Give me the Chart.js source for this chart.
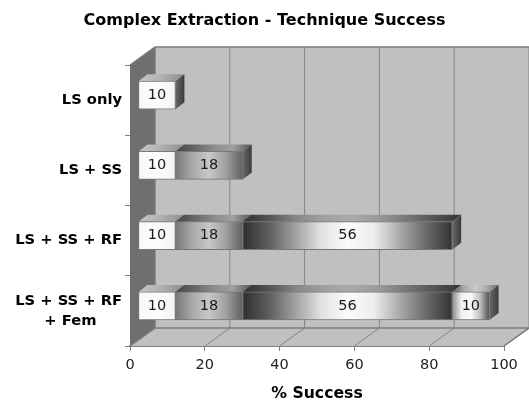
<!DOCTYPE html>
<html>
<head>
<meta charset="utf-8">
<title>Complex Extraction - Technique Success</title>
<script src="https://cdn.jsdelivr.net/npm/chart.js@4"></script>
<style>
  body { margin: 0; background: #fff; }
  canvas { display: block; }
</style>
</head>
<body>
<canvas id="chart" width="529" height="401"></canvas>
<script>
const FONT = "'DejaVu Sans', Verdana, sans-serif";

const categories = ["LS only", "LS + SS", "LS + SS + RF", ["LS + SS + RF", "+ Fem\u00A0\u00A0\u00A0\u00A0\u00A0"]];
const firstStep = [10, 10, 10, 10];
const secondStep = [null, 18, 18, 18];
const thirdStep = [null, null, 56, 56];
const fourthStep = [null, null, null, 10];
const xTicks = [0, 20, 40, 60, 80, 100];

// grey ramps for each segment, left to right
const ramps = [
  ["#f8f8f8", "#fcfcfc", "#f4f4f4"],
  ["#777777", "#a8a8a8", "#c8c8c8", "#a0a0a0", "#606060"],
  ["#2e2e2e", "#5e5e5e", "#a0a0a0", "#e2e2e2", "#fbfbfb", "#eeeeee", "#aaaaaa", "#6a6a6a", "#333333"],
  ["#8a8a8a", "#f0f0f0", "#fafafa", "#c0c0c0", "#4c4c4c"],
];
const topRamps = [
  ["#c8c8c8", "#b0b0b0", "#8c8c8c"],
  ["#444444", "#666666", "#8c8c8c", "#a0a0a0", "#555555"],
  ["#2e2e2e", "#555555", "#888888", "#a0a0a0", "#aaaaaa", "#999999", "#777777", "#555555", "#333333"],
  ["#555555", "#aaaaaa", "#cccccc", "#aaaaaa", "#666666"],
];
const series = [firstStep, secondStep, thirdStep, fourthStep];

const DEPTH_X = 25, DEPTH_Y = -18; // walls
const BAR_X = 8, BAR_Y = -5; // bars sit part way into the box
const CAP_X = 9, CAP_Y = -7;

function ramp(ctx, x0, x1, stops) {
  const g = ctx.createLinearGradient(x0, 0, x1, 0);
  stops.forEach((c, i) => g.addColorStop(i / (stops.length - 1), c));
  return g;
}

function segmentStart(datasetIndex, index) {
  let sum = 0;
  for (let i = 0; i < datasetIndex; i++) sum += series[i][index] || 0;
  return sum;
}

function poly(ctx, pts, fill) {
  ctx.beginPath();
  pts.forEach((p, i) => (i ? ctx.lineTo(p[0], p[1]) : ctx.moveTo(p[0], p[1])));
  ctx.closePath();
  ctx.fillStyle = fill;
  ctx.fill();
}

const box3d = {
  id: "box3d",
  beforeDraw(chart) {
    // y labels would be clipped to the scale box, which starts at the left padding
    chart.scales.y.left = 0;
  },
  beforeDatasetsDraw(chart) {
    const { ctx, chartArea: a, scales } = chart;
    const l = a.left, r = a.right, t = a.top, b = a.bottom;
    ctx.save();
    // back wall, floor, left wall
    poly(ctx, [[l + DEPTH_X, t + DEPTH_Y], [r + DEPTH_X, t + DEPTH_Y], [r + DEPTH_X, b + DEPTH_Y], [l + DEPTH_X, b + DEPTH_Y]], "#c0c0c0");
    poly(ctx, [[l, b], [r, b], [r + DEPTH_X, b + DEPTH_Y], [l + DEPTH_X, b + DEPTH_Y]], "#c0c0c0");
    poly(ctx, [[l, t], [l + DEPTH_X, t + DEPTH_Y], [l + DEPTH_X, b + DEPTH_Y], [l, b]], "#6f6f6f");

    ctx.strokeStyle = "#858585";
    ctx.lineWidth = 1;
    xTicks.slice(1).forEach((v) => {
      const x = scales.x.getPixelForValue(v);
      ctx.beginPath();
      ctx.moveTo(x, b);
      ctx.lineTo(x + DEPTH_X, b + DEPTH_Y);
      ctx.lineTo(x + DEPTH_X, t + DEPTH_Y);
      ctx.stroke();
    });
    ctx.strokeStyle = "#7c7c7c";
    ctx.lineWidth = 1.5;
    ctx.beginPath();
    ctx.moveTo(l, t);
    ctx.lineTo(l + DEPTH_X, t + DEPTH_Y);
    ctx.lineTo(r + DEPTH_X, t + DEPTH_Y);
    ctx.moveTo(l + DEPTH_X, t + DEPTH_Y);
    ctx.lineTo(l + DEPTH_X, b + DEPTH_Y);
    ctx.lineTo(l, b);
    ctx.moveTo(l + DEPTH_X, b + DEPTH_Y);
    ctx.lineTo(r + DEPTH_X, b + DEPTH_Y);
    ctx.lineTo(r, b);
    ctx.stroke();
    ctx.restore();

    // bars get pushed into the box, the fronts are drawn by the library
    ctx.save();
    ctx.translate(BAR_X, BAR_Y);
    series.forEach((values, d) => {
      chart.getDatasetMeta(d).data.forEach((bar, i) => {
        if (values[i] == null) return;
        const x0 = bar.base, x1 = bar.x;
        const yt = bar.y - bar.height / 2, yb = bar.y + bar.height / 2;
        poly(ctx, [[x0, yt], [x0 + CAP_X, yt + CAP_Y], [x1 + CAP_X, yt + CAP_Y], [x1, yt]],
          ramp(ctx, x0, x1 + CAP_X, topRamps[d]));
        const side = ctx.createLinearGradient(x1, 0, x1 + CAP_X, 0);
        side.addColorStop(0, "#6a6a6a");
        side.addColorStop(1, "#3a3a3a");
        poly(ctx, [[x1, yt], [x1 + CAP_X, yt + CAP_Y], [x1 + CAP_X, yb + CAP_Y], [x1, yb]], side);
      });
    });
  },
  afterDatasetsDraw(chart) {
    const { ctx } = chart;
    ctx.fillStyle = "#1a1a1a";
    ctx.font = "14.5px " + FONT;
    ctx.textAlign = "center";
    ctx.textBaseline = "middle";
    series.forEach((values, d) => {
      chart.getDatasetMeta(d).data.forEach((bar, i) => {
        if (values[i] == null) return;
        ctx.fillText(String(values[i]), (bar.base + bar.x) / 2, bar.y);
      });
    });
    ctx.restore();
  },
};

new Chart(document.getElementById("chart"), {
  type: "bar",
  plugins: [box3d],
  data: {
    labels: categories,
    datasets: series.map((values, d) => ({
      label: "Step " + (d + 1),
      data: values,
      barThickness: 28,
      borderWidth: 1,
      borderColor: "#777777",
      borderSkipped: false,
      backgroundColor: (c) => {
        const x = c.chart.scales.x;
        if (!x || c.dataIndex == null) return ramps[d][1];
        const start = segmentStart(d, c.dataIndex);
        const end = start + (values[c.dataIndex] || 0);
        const x0 = x.getPixelForValue(start), x1 = x.getPixelForValue(end);
        // the scale has no size yet on the first pass
        if (!Number.isFinite(x0) || !Number.isFinite(x1)) return ramps[d][1];
        return ramp(c.chart.ctx, x0, x1, ramps[d]);
      },
    })),
  },
  options: {
    indexAxis: "y",
    responsive: false,
    animation: false,
    // equal side padding keeps the title centred on the page
    layout: { padding: { left: 25, right: 25 } },
    plugins: {
      legend: { display: false },
      tooltip: { enabled: false },
      title: {
        display: true,
        text: "Complex Extraction - Technique Success",
        color: "#000",
        font: { family: FONT, size: 16, weight: "bold" },
        padding: { top: 11, bottom: 34.8 },
      },
    },
    scales: {
      x: {
        stacked: true,
        min: 0,
        max: 100,
        afterFit: (s) => { s.height = 55; },
        afterBuildTicks: (s) => { s.ticks = xTicks.map((value) => ({ value })); },
        grid: { drawOnChartArea: false, color: "#808080", tickLength: 5 },
        border: { color: "#808080", width: 2 },
        ticks: { color: "#222", font: { family: FONT, size: 14.5 }, padding: 6, maxRotation: 0 },
        title: {
          display: true,
          text: "% Success",
          color: "#000",
          font: { family: FONT, size: 15.7, weight: "bold" },
          padding: { top: 10, bottom: -2 },
        },
      },
      y: {
        stacked: true,
        afterFit: (s) => { s.width = 105; },
        grid: { drawOnChartArea: false, color: "#808080", tickLength: 5 },
        border: { display: false },
        ticks: { color: "#000", font: { family: FONT, size: 14.7, weight: "bold", lineHeight: 1.36 }, padding: 3 },
      },
    },
  },
});
</script>
</body>
</html>
